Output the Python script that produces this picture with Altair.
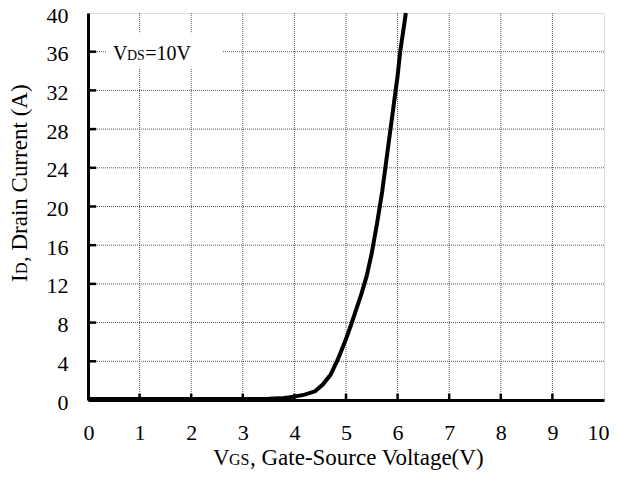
import altair as alt
import pandas as pd

# ---- data ----
vgs = [0, 1, 2, 3, 3.5, 3.8, 4.0, 4.2, 4.4, 4.55, 4.7, 4.85, 5.0, 5.1, 5.2, 5.3,
       5.4, 5.5, 5.6, 5.7, 5.8, 5.9, 6.0, 6.05, 6.1, 6.16]
i_d = [0.1, 0.1, 0.1, 0.1, 0.12, 0.2, 0.35, 0.55, 0.9, 1.6, 2.6, 4.3, 6.3, 7.8,
       9.4, 11.0, 12.8, 15.2, 18.2, 21.5, 25.5, 29.5, 33.5, 36.0, 37.8, 40.0]

x_ticks = list(range(0, 11))
y_ticks = list(range(0, 41, 4))

note_parts = ["V", "DS", "=10V"]
note_x = [0.485, 0.756, 1.11]
note_size = [20, 14, 20]
note_y = 35.1
note_box = {"x": [0.37], "x2": [2.6], "y": [34.2], "y2": [37.9]}

FONT = "Liberation Serif"

df = pd.DataFrame({"vgs": vgs, "id": i_d})
xs = alt.Scale(domain=[0, 10], nice=False)
ys = alt.Scale(domain=[0, 40], nice=False)

ax_kw = dict(grid=False, tickSize=0, labelFont=FONT, labelFontSize=22,
             labelColor="black", labelOverlap=False,
             domainColor="black", domainWidth=3, title=None)
x_axis = alt.Axis(values=x_ticks, labelPadding=22, labelFlush=True,
                  labelFlushOffset=5, **ax_kw)
y_axis = alt.Axis(values=y_ticks, labelPadding=20, labelOffset=2,
                  labelFlush=False, **ax_kw)

X = lambda f: alt.X(f, scale=xs, axis=x_axis)
Y = lambda f: alt.Y(f, scale=ys, axis=y_axis)

# grid lines drawn from the tick lists
gx = pd.DataFrame({"x": x_ticks[1:-1]})
grid_x = alt.Chart(gx).mark_rule(color="#555555", strokeDash=[1, 1], strokeWidth=1).encode(
    x=X("x:Q"))
gy = pd.DataFrame({"y": y_ticks[1:-1]})
grid_y = alt.Chart(gy).mark_rule(color="#555555", strokeDash=[1, 1], strokeWidth=1).encode(
    y=Y("y:Q"))

line = alt.Chart(df).mark_line(color="black", strokeWidth=4).encode(
    x=X("vgs:Q"), y=Y("id:Q"))

box = alt.Chart(pd.DataFrame(note_box)).mark_rect(color="white").encode(
    x=X("x:Q"), x2="x2:Q", y=Y("y:Q"), y2="y2:Q")

note_df = pd.DataFrame({"t": note_parts, "x": note_x, "s": note_size,
                        "y": [note_y] * 3})
note = alt.Chart(note_df).mark_text(font=FONT, align="left", baseline="alphabetic",
                                    color="black").encode(
    x=X("x:Q"), y=Y("y:Q"), text="t:N",
    size=alt.Size("s:Q", scale=None, legend=None))

xt = pd.DataFrame({"x": x_ticks[1:-1], "y": [0] * 9, "y2": [0.65] * 9})
xtick = alt.Chart(xt).mark_rule(color="black", strokeWidth=2.5).encode(
    x=X("x:Q"), y=Y("y:Q"), y2="y2:Q")

yt = pd.DataFrame({"y": y_ticks[1:-1], "x": [0] * 9, "x2": [0.16] * 9})
ytick = alt.Chart(yt).mark_rule(color="black", strokeWidth=2.5).encode(
    y=Y("y:Q"), x=X("x:Q"), x2="x2:Q")

# axis titles with subscripts (pixel offsets relative to the plot area)
xt_parts = ["V", "GS", ", Gate-Source Voltage(V)"]
xt_pos = [125, 141, 162]
xt_size = [23, 16, 23]
xtitle = alt.layer(*[
    alt.Chart(pd.DataFrame({"t": [t]})).mark_text(
        font=FONT, fontSize=s, align="left", baseline="alphabetic", color="black"
    ).encode(text="t:N", x=alt.value(p), y=alt.value(452))
    for t, p, s in zip(xt_parts, xt_pos, xt_size)])

yt_parts = ["I", "D", ", Drain Current (A)"]
yt_pos = [269, 261, 249]
yt_size = [23, 16, 23]
ytitle = alt.layer(*[
    alt.Chart(pd.DataFrame({"t": [t]})).mark_text(
        font=FONT, fontSize=s, align="left", baseline="alphabetic", angle=270,
        color="black"
    ).encode(text="t:N", x=alt.value(-61), y=alt.value(p))
    for t, p, s in zip(yt_parts, yt_pos, yt_size)])

chart = alt.layer(grid_x, grid_y, box, note, line, xtick, ytick, xtitle, ytitle).properties(
    width=516, height=387,
    autosize=alt.AutoSizeParams(type="none"),
    padding={"left": 80, "top": 5, "right": 5, "bottom": 71},
).configure_view(stroke="#808080", strokeWidth=2).configure(background="white")

chart.save("out.html", embed_options={"renderer": "svg", "actions": False})
